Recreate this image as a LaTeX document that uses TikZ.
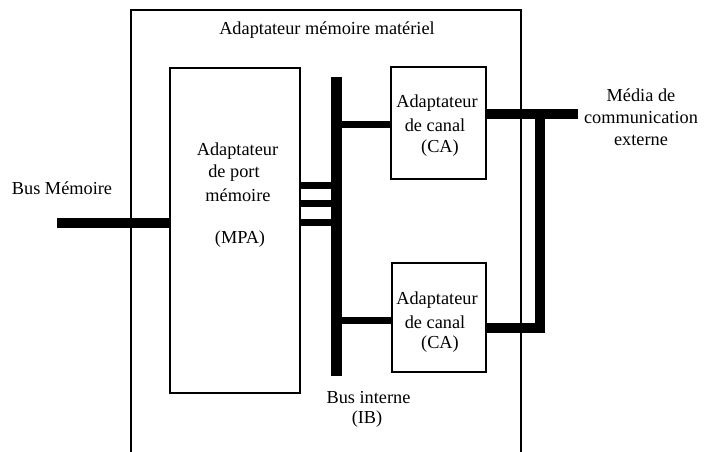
\documentclass[tikz,border=0pt]{standalone}
\usepackage{fontspec}
\setmainfont{Liberation Serif}
\begin{document}
\begin{tikzpicture}[x=1pt,y=-1pt,
  box/.style={draw,line width=1.5pt,inner sep=0pt},
  txt/.style={inner sep=0pt,font=\fontsize{18.3}{22}\selectfont,align=center},
  thick bus/.style={line width=10pt},
  stub/.style={line width=7pt}]
\useasboundingbox (0,0) rectangle (705,452);
% outer adapter frame (open at bottom)
\draw[line width=1.5pt] (131,452) -- (131,10) -- (521,10) -- (521,452);
\node[txt] (title) at (327,30) {Adaptateur mémoire matériel};
% boxes
\node[box,minimum width=130pt,minimum height=325pt] (mpa) at (235,230.5) {};
\node[box,minimum width=95pt,minimum height=112pt] (ca1) at (438.5,123) {};
\node[box,minimum width=94pt,minimum height=109pt] (ca2) at (439,317.5) {};
% texts in boxes
\node[txt] (mpat1) at (237.5,151) {Adaptateur};
\node[txt] (mpat2) at (234,173) {de port};
\node[txt] (mpat3) at (238,195) {mémoire};
\node[txt] (mpat4) at (240,239) {(MPA)};
\node[txt] (ca1t1) at (437,103) {Adaptateur};
\node[txt] (ca1t2) at (435,125) {de canal};
\node[txt] (ca1t3) at (440,148) {(CA)};
\node[txt] (ca2t1) at (437,300) {Adaptateur};
\node[txt] (ca2t2) at (435,322) {de canal};
\node[txt] (ca2t3) at (440,344) {(CA)};
% internal bus
\coordinate (ibtop) at (336.5,77);
\coordinate (ibbot) at (336.5,376);
\draw[line width=11pt] (ibtop) -- (ibbot);
\node[txt] (ibl1) at (368.5,398) {Bus interne};
\node[txt] (ibl2) at (367,419) {(IB)};
% stubs bus -> CA
\draw[stub] (ibtop|-ca1.west) ++(0,1.5) coordinate (s1) -- (ca1.west|-s1);
\draw[stub] (336.5,320) coordinate (s2) -- (ca2.west|-s2);
% stubs MPA -> bus
\foreach \yy in {185,203,222}{
  \draw[stub] (mpa.east|-0,\yy) -- (336.5,\yy);
}
% memory bus
\coordinate (bm) at (57,222.5);
\draw[thick bus] (bm) -- (mpa.west|-bm);
\node[txt] (bml) at (62,188) {Bus Mémoire};
% external media
\coordinate (ext) at (578,114);
\coordinate (j1) at (540,114);
\coordinate (j2) at (540,328);
\draw[thick bus] (ca1.east|-ext) -- (ext);
\draw[thick bus] (j1) -- ([yshift=5pt]j2);
\draw[thick bus] (ca2.east|-j2) -- ([xshift=5pt]j2);
\node[txt] (extl) at (641,117) {Média de\\communication\\externe};
\end{tikzpicture}
\end{document}
